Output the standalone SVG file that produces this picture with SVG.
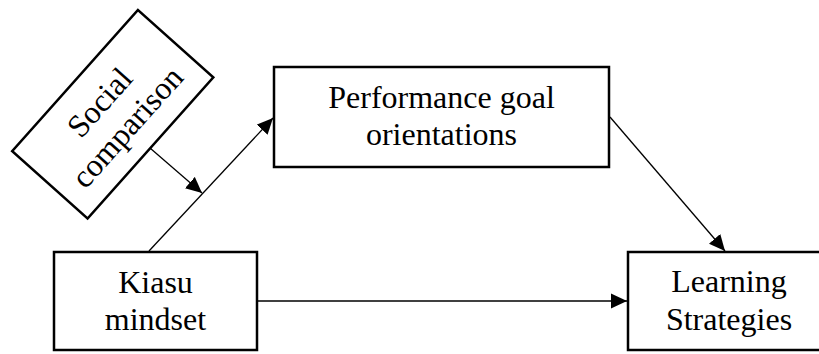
<svg xmlns="http://www.w3.org/2000/svg" width="819" height="354" viewBox="0 0 819 354">
<style>
.box{fill:#fff;stroke:#000;stroke-width:2.5}
.lbl{font-family:"Liberation Serif","Times New Roman",serif;font-size:32px;fill:#000;text-anchor:middle}
.con{stroke:#000;stroke-width:1.3;fill:none}
</style>
<defs>
<marker id="ah" markerUnits="userSpaceOnUse" markerWidth="16" markerHeight="16" viewBox="0 0 16 16" refX="16" refY="8" orient="auto">
<path d="M0,0.5 L16,8 L0,15.5 Z" fill="#000"/>
</marker>
</defs>
<rect width="819" height="354" fill="#fff"/>
<g id="connectors">
<line class="con" x1="149" y1="251" x2="273" y2="118" marker-end="url(#ah)"/>
<line class="con" x1="150" y1="148" x2="202" y2="193" marker-end="url(#ah)"/>
<line class="con" x1="610" y1="117" x2="725" y2="251" marker-end="url(#ah)"/>
<line class="con" x1="257" y1="301" x2="627" y2="301" marker-end="url(#ah)"/>
</g>
<g id="social">
<g transform="translate(112.75,114.25) rotate(-48.3)">
<rect class="box" x="-94.5" y="-50.5" width="189" height="101"/>
<text class="lbl" x="0" y="-7">Social</text>
<text class="lbl" x="0" y="30">comparison</text>
</g>
</g>
<g id="performance">
<rect class="box" x="274" y="67" width="335" height="100"/>
<text class="lbl" x="441.5" y="108">Performance goal</text>
<text class="lbl" x="441.5" y="145">orientations</text>
</g>
<g id="kiasu">
<rect class="box" x="54" y="252" width="203" height="98"/>
<text class="lbl" x="155.5" y="293">Kiasu</text>
<text class="lbl" x="155.5" y="330">mindset</text>
</g>
<g id="learning">
<rect class="box" x="628" y="252" width="202" height="98"/>
<text class="lbl" x="729" y="292">Learning</text>
<text class="lbl" x="729" y="330">Strategies</text>
</g>
</svg>
